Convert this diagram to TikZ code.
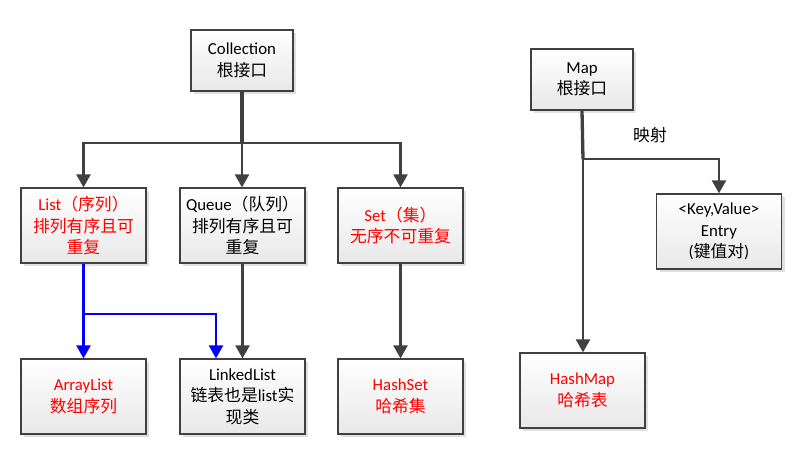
\documentclass[tikz,border=0pt]{standalone}
\usepackage{fontspec}
\setmainfont{Carlito}
\newfontfamily\zhfont{Noto Sans CJK SC}
\newcommand{\zh}[1]{{\zhfont #1}}
\usetikzlibrary{arrows.meta,shadows,calc}
\definecolor{linegray}{HTML}{404040}
\definecolor{txtred}{HTML}{FF0000}
\tikzset{
  box/.style={draw=linegray, line width=1.2pt, top color=white, bottom color=black!9,
    align=center, inner sep=2pt, font=\fontsize{16.8}{21.5}\selectfont,
    drop shadow={shadow xshift=3pt, shadow yshift=-3pt, fill=black!12, opacity=1},
    minimum width=125pt, minimum height=75pt},
  rootbox/.style={box, minimum width=102pt, minimum height=61pt},
  redtext/.style={text=txtred},
  conn/.style={draw=linegray, line width=2.3pt},
  trunk/.style={draw=linegray, line width=3.3pt},
  arr/.style={-{Triangle[width=14pt,length=13pt]}},
  blueconn/.style={draw=blue, line width=2.3pt},
  lbl/.style={font=\fontsize{16.8}{21.5}\selectfont}
}
\begin{document}
\begin{tikzpicture}[x=1pt,y=-1pt]
\useasboundingbox (0,0) rectangle (809,455);
% nodes
\node[rootbox] (collection) at (242,60.5) {Collection\\\zh{根接口}};
\node[rootbox] (map) at (582,79.5) {Map\\\zh{根接口}};
\node[box,redtext] (list) at (83.5,225.5) {List\zh{（序列）}\\\zh{排列有序且可}\\\zh{重复}};
\node[box] (queue) at (242.5,225.5) {Queue\zh{（队列）}\\\zh{排列有序且可}\\\zh{重复}};
\node[box,redtext] (set) at (400.5,225.5) {Set\zh{（集）}\\\zh{无序不可重复}};
\node[box,redtext] (arraylist) at (83.5,396.5) {ArrayList\\\zh{数组序列}};
\node[box] (linkedlist) at (242.5,396.5) {LinkedList\\\zh{链表也是}list\zh{实}\\\zh{现类}};
\node[box,redtext] (hashset) at (400.5,396.5) {HashSet\\\zh{哈希集}};
\node[box] (entry) at (719,231.5) {<Key,Value>\\Entry\\(\zh{键值对})};
\node[box,redtext] (hashmap) at (582.5,390.5) {HashMap\\\zh{哈希表}};
\node[lbl] (yingshe) at (650,135) {\zh{映射}};
% junctions
\coordinate (cj) at (242,143);
\coordinate (mj) at (583,159);
\coordinate (bj) at (84,314);
\coordinate (lltarget) at ($(linkedlist.north)+(-26.5,0)$);
% connectors
\draw[trunk] (collection.south) -- (cj);
\draw[conn,arr] (cj) -| (list.north);
\draw[conn,arr] (cj) -| (set.north);
\draw[conn,arr] (cj) -- (cj |- queue.north);
\draw[trunk] (map.south) -- (mj);
\draw[conn,arr] (mj) -- (mj |- hashmap.north);
\draw[conn,arr] (mj) -| (entry.north);
\draw[conn,arr] (queue.south) -- (linkedlist.north);
\draw[conn,arr] (set.south) -- (hashset.north);
\draw[blueconn,arr] (list.south) -- (arraylist.north);
\draw[blueconn,arr] (bj) -| (lltarget);
\end{tikzpicture}
\end{document}
